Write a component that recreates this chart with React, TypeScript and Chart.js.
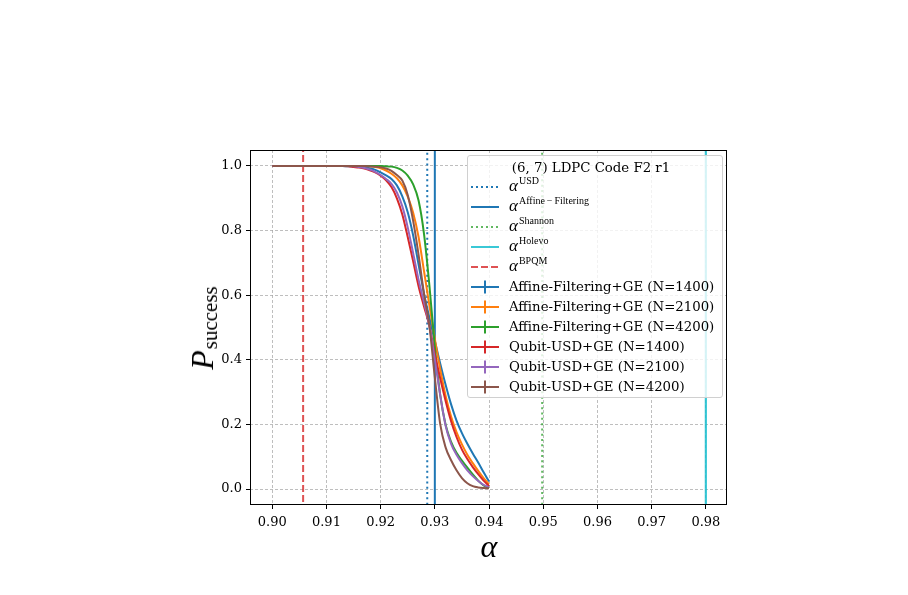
import React, { useEffect, useRef } from "react";
import { Chart, registerables } from "chart.js";

Chart.register(...registerables);

// alpha grid of the simulations
const alphaValues = [
  0.900, 0.901, 0.902, 0.903, 0.904, 0.905, 0.906, 0.907, 0.908, 0.909,
  0.910, 0.911, 0.912, 0.913, 0.914, 0.915, 0.916, 0.917, 0.918, 0.919,
  0.920, 0.921, 0.922, 0.923, 0.924, 0.925, 0.926, 0.927, 0.928, 0.929,
  0.930, 0.931, 0.932, 0.933, 0.934, 0.935, 0.936, 0.937, 0.938, 0.939,
  0.940,
];

// success probabilities, one value per alpha
const affineN1400 = [
  1, 1, 1, 1, 1, 1, 1, 1, 1, 1,
  1, 1, 1, 1, 0.999, 0.999, 0.998, 0.996, 0.993, 0.988,
  0.980, 0.971, 0.960, 0.940, 0.906, 0.857, 0.785, 0.695, 0.605, 0.530,
  0.458, 0.388, 0.322, 0.262, 0.212, 0.173, 0.140, 0.110, 0.082, 0.052,
  0.023,
];
const affineN2100 = [
  1, 1, 1, 1, 1, 1, 1, 1, 1, 1,
  1, 1, 1, 1, 1, 1, 1, 1, 0.999, 0.997,
  0.993, 0.986, 0.976, 0.962, 0.940, 0.905, 0.855, 0.780, 0.675, 0.568,
  0.465, 0.370, 0.288, 0.224, 0.176, 0.138, 0.106, 0.080, 0.056, 0.034,
  0.015,
];
const affineN4200 = [
  1, 1, 1, 1, 1, 1, 1, 1, 1, 1,
  1, 1, 1, 1, 1, 1, 1, 1, 1, 1,
  1, 0.999, 0.998, 0.994, 0.986, 0.970, 0.943, 0.893, 0.790, 0.630,
  0.440, 0.290, 0.198, 0.146, 0.112, 0.088, 0.066, 0.045, 0.026, 0.011,
  0.003,
];
const qubitN1400 = [
  1, 1, 1, 1, 1, 1, 1, 1, 1, 1,
  1, 1, 1, 1, 0.999, 0.997, 0.995, 0.992, 0.987, 0.980,
  0.970, 0.956, 0.935, 0.900, 0.850, 0.780, 0.705, 0.628, 0.565, 0.505,
  0.418, 0.342, 0.272, 0.210, 0.161, 0.122, 0.093, 0.068, 0.046, 0.026,
  0.009,
];
const qubitN2100 = [
  1, 1, 1, 1, 1, 1, 1, 1, 1, 1,
  1, 1, 1, 1, 1, 0.999, 0.997, 0.994, 0.989, 0.982,
  0.972, 0.960, 0.945, 0.918, 0.875, 0.810, 0.730, 0.648, 0.578, 0.505,
  0.400, 0.290, 0.195, 0.140, 0.106, 0.080, 0.058, 0.040, 0.025, 0.013,
  0.006,
];
const qubitN4200 = [
  1, 1, 1, 1, 1, 1, 1, 1, 1, 1,
  1, 1, 1, 1, 1, 1, 1, 1, 0.999, 0.998,
  0.996, 0.992, 0.985, 0.972, 0.955, 0.910, 0.830, 0.725, 0.605, 0.505,
  0.345, 0.200, 0.128, 0.089, 0.058, 0.034, 0.018, 0.009, 0.005, 0.003,
  0.002,
];

// threshold values of alpha
const alphaUSD = 0.9286;
const alphaAffine = 0.93;
const alphaShannon = 0.9498;
const alphaHolevo = 0.98;
const alphaBPQM = 0.9057;

const xTickValues = [0.9, 0.91, 0.92, 0.93, 0.94, 0.95, 0.96, 0.97, 0.98];
const yTickValues = [0, 0.2, 0.4, 0.6, 0.8, 1.0];

const C = {
  blue: "#1f77b4",
  orange: "#ff7f0e",
  green: "#2ca02c",
  red: "#d62728",
  purple: "#9467bd",
  brown: "#8c564b",
  cyan: "#17becf",
};

const SERIF = "'DejaVu Serif', serif";
const MATH = "'Liberation Serif', 'DejaVu Serif', serif";

const toPoints = (ys: number[]) => alphaValues.map((x, i) => ({ x, y: ys[i] }));
const vline = (x: number) => [
  { x, y: -1 },
  { x, y: 2 },
];

type Handle =
  | { kind: "line"; color: string; dash?: string; width?: number }
  | { kind: "err"; color: string };

type Entry = { handle: Handle; sup?: string; text?: string };

const legendEntries: Entry[] = [
  { handle: { kind: "line", color: C.blue, dash: "2 3" }, sup: "USD" },
  { handle: { kind: "line", color: C.blue }, sup: "Affine\u2009\u2212\u2009Filtering" },
  { handle: { kind: "line", color: "rgba(44,160,44,0.75)", dash: "2 3" }, sup: "Shannon" },
  { handle: { kind: "line", color: "rgba(23,190,207,0.85)" }, sup: "Holevo" },
  { handle: { kind: "line", color: "rgba(214,39,40,0.8)", dash: "7 3" }, sup: "BPQM" },
  { handle: { kind: "err", color: C.blue }, text: "Affine-Filtering+GE (N=1400)" },
  { handle: { kind: "err", color: C.orange }, text: "Affine-Filtering+GE (N=2100)" },
  { handle: { kind: "err", color: C.green }, text: "Affine-Filtering+GE (N=4200)" },
  { handle: { kind: "err", color: C.red }, text: "Qubit-USD+GE (N=1400)" },
  { handle: { kind: "err", color: C.purple }, text: "Qubit-USD+GE (N=2100)" },
  { handle: { kind: "err", color: C.brown }, text: "Qubit-USD+GE (N=4200)" },
];

function HandleIcon({ h }: { h: Handle }) {
  return (
    <svg width={28} height={16} style={{ display: "block" }}>
      <line
        x1={0}
        y1={8}
        x2={28}
        y2={8}
        stroke={h.color}
        strokeWidth={2}
        strokeDasharray={h.kind === "line" ? h.dash : undefined}
      />
      {h.kind === "err" && (
        <line x1={14} y1={1.5} x2={14} y2={14.5} stroke={h.color} strokeWidth={2} />
      )}
    </svg>
  );
}

function Legend() {
  const left = 467;
  const top = 155;
  return (
    <div
      style={{
        position: "absolute",
        left,
        top,
        width: 256,
        height: 243,
        boxSizing: "border-box",
        border: "1px solid #d0d0d0",
        borderRadius: 3,
        background: "rgba(255,255,255,0.8)",
        fontFamily: SERIF,
        fontSize: 13.3,
        color: "#000",
      }}
    >
      <div
        style={{
          position: "absolute",
          left: 0,
          width: "100%",
          top: 167 - top - 9,
          height: 18,
          lineHeight: "18px",
          textAlign: "center",
          whiteSpace: "nowrap",
          transform: "translateX(-4px)",
        }}
      >
        (6, 7) LDPC Code F2 r1
      </div>
      {legendEntries.map((e, i) => {
        const cy = 185.5 + i * 20.0 - top;
        return (
          <div
            key={i}
            style={{
              position: "absolute",
              left: 0,
              top: cy - 9,
              height: 18,
              display: "flex",
              alignItems: "center",
              whiteSpace: "nowrap",
            }}
          >
            <div style={{ marginLeft: 3, width: 28 }}>
              <HandleIcon h={e.handle} />
            </div>
            <div style={{ marginLeft: 10, lineHeight: "18px" }}>
              {e.sup ? (
                <span>
                  <span style={{ fontFamily: MATH, fontStyle: "italic", fontSize: 17 }}>
                    α
                  </span>
                  <span
                    style={{
                      fontFamily: MATH,
                      fontSize: 10,
                      position: "relative",
                      top: -7,
                      marginLeft: 1,
                    }}
                  >
                    {e.sup}
                  </span>
                </span>
              ) : (
                e.text
              )}
            </div>
          </div>
        );
      })}
    </div>
  );
}

export default function App() {
  const canvasRef = useRef<HTMLCanvasElement | null>(null);

  useEffect(() => {
    const canvas = canvasRef.current;
    if (!canvas) return;

    const frame = {
      id: "axesFrame",
      afterDatasetsDraw(chart: any) {
        const { ctx, chartArea } = chart;
        ctx.save();
        ctx.strokeStyle = "#000";
        ctx.lineWidth = 1;
        ctx.setLineDash([]);
        ctx.strokeRect(
          Math.round(chartArea.left) + 0.5,
          Math.round(chartArea.top) + 0.5,
          Math.round(chartArea.right - chartArea.left) - 1,
          Math.round(chartArea.bottom - chartArea.top) - 1
        );
        ctx.restore();
      },
    };

    const curve = (data: number[], color: string) => ({
      data: toPoints(data),
      borderColor: color,
      backgroundColor: color,
      borderWidth: 2,
      pointRadius: 0,
      fill: false,
      cubicInterpolationMode: "monotone" as const,
    });
    const marker = (x: number, color: string, dash: number[], width = 2) => ({
      data: vline(x),
      borderColor: color,
      backgroundColor: color,
      borderWidth: width,
      borderDash: dash,
      pointRadius: 0,
      fill: false,
    });

    const gridCommon = {
      color: "rgba(165,165,165,0.9)",
      lineWidth: 0.8,
      tickColor: "#000",
      tickLength: 4,
      tickWidth: 1,
      tickBorderDash: [],
    };

    const chart = new Chart(canvas, {
      type: "line",
      data: {
        datasets: [
          curve(qubitN4200, C.brown),
          curve(qubitN2100, C.purple),
          curve(qubitN1400, C.red),
          curve(affineN4200, C.green),
          curve(affineN2100, C.orange),
          curve(affineN1400, C.blue),
          marker(alphaBPQM, "rgba(214,39,40,0.8)", [7, 3]),
          marker(alphaHolevo, "rgba(23,190,207,0.85)", [], 2.2),
          marker(alphaShannon, "rgba(44,160,44,0.75)", [2, 3.3]),
          marker(alphaAffine, C.blue, []),
          marker(alphaUSD, C.blue, [2, 3.3]),
        ] as any,
      },
      options: {
        responsive: false,
        animation: false,
        devicePixelRatio: 1,
        layout: { padding: { left: 0, top: 150, right: 181, bottom: 0 } },
        plugins: {
          legend: { display: false },
          tooltip: { enabled: false },
          title: { display: false },
        },
        scales: {
          x: {
            type: "linear",
            min: 0.8959,
            max: 0.9839,
            afterFit: (s: any) => {
              s.height = 90;
            },
            afterBuildTicks: (s: any) => {
              s.ticks = xTickValues.map((v) => ({ value: v }));
            },
            grid: gridCommon,
            border: { display: false, dash: [3, 2] },
            ticks: {
              color: "#000",
              padding: 6,
              maxRotation: 0,
              autoSkip: false,
              font: { family: SERIF, size: 13 },
              callback: (v: any) => Number(v).toFixed(2),
            },
          },
          y: {
            type: "linear",
            min: -0.0495,
            max: 1.0495,
            afterFit: (s: any) => {
              s.width = 250;
            },
            afterBuildTicks: (s: any) => {
              s.ticks = yTickValues.map((v) => ({ value: v }));
            },
            grid: gridCommon,
            border: { display: false, dash: [3, 2] },
            ticks: {
              color: "#000",
              padding: 4,
              autoSkip: false,
              font: { family: SERIF, size: 13 },
              callback: (v: any) => Number(v).toFixed(1),
            },
          },
        },
      } as any,
      plugins: [frame],
    });

    return () => chart.destroy();
  }, []);

  return (
    <div
      style={{
        position: "fixed",
        left: 0,
        top: 0,
        width: 908,
        height: 595,
        background: "#fff",
        overflow: "hidden",
      }}
    >
      <canvas
        ref={canvasRef}
        width={908}
        height={595}
        style={{ position: "absolute", left: 0, top: 0, width: 908, height: 595 }}
      />
      {/* y-axis label */}
      <div
        style={{
          position: "absolute",
          left: 202,
          top: 328,
          transform: "translate(-50%, -50%) rotate(-90deg)",
          whiteSpace: "nowrap",
          fontFamily: MATH,
          color: "#000",
          lineHeight: 1,
        }}
      >
        <span style={{ fontStyle: "italic", fontSize: 32 }}>P</span>
        <span style={{ fontSize: 21, position: "relative", top: 4, marginLeft: 1 }}>
          success
        </span>
      </div>
      {/* x-axis label */}
      <div
        style={{
          position: "absolute",
          left: 489,
          top: 546,
          transform: "translate(-50%, -50%)",
          whiteSpace: "nowrap",
          fontFamily: MATH,
          fontStyle: "italic",
          fontSize: 32,
          color: "#000",
          lineHeight: 1,
        }}
      >
        α
      </div>
      <Legend />
    </div>
  );
}
